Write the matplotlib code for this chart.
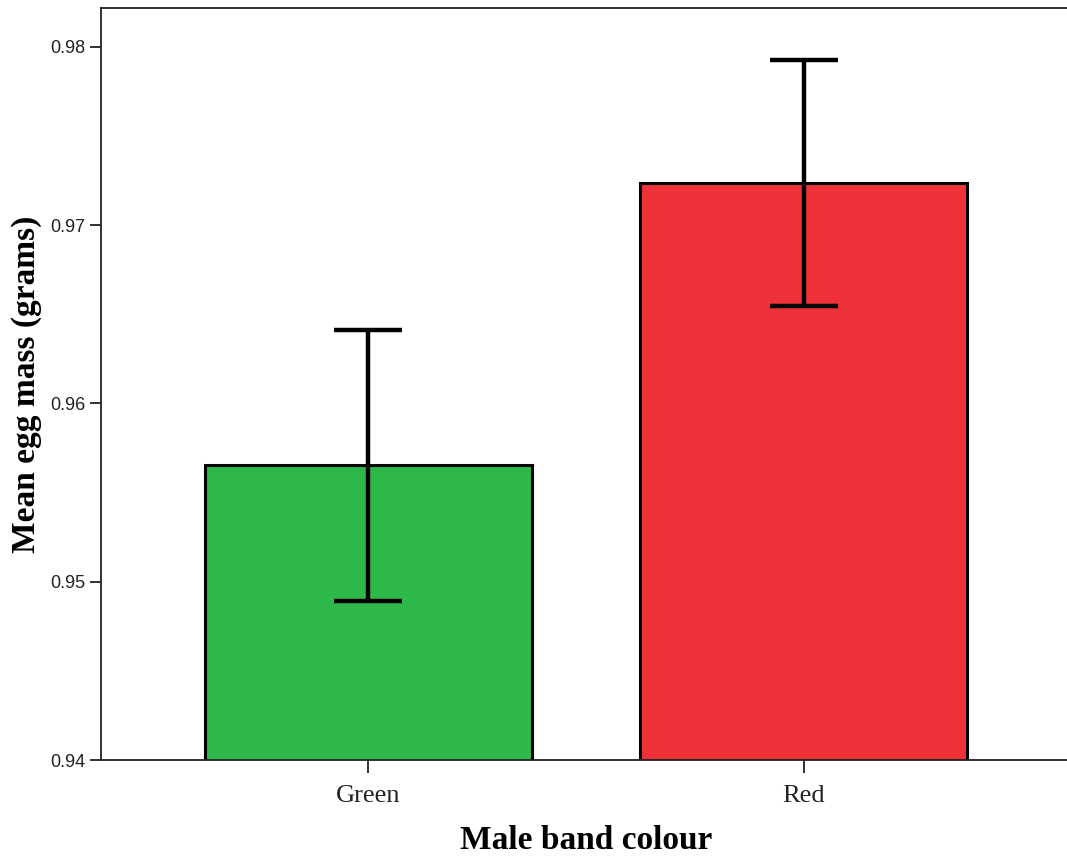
import matplotlib
matplotlib.use("Agg")
import matplotlib.pyplot as plt
import numpy as np

# Mean egg mass by male band colour, with error bar half-widths
categories = ["Green", "Red"]
means = [0.95653, 0.97234]
errors = [0.00761, 0.00690]
bar_colors = ["#2fb84a", "#ef3239"]
yticks = [0.94, 0.95, 0.96, 0.97, 0.98]

fig = plt.figure(figsize=(10.67, 8.58), dpi=100)
ax = fig.add_axes([101 / 1067, 98 / 858, 970 / 1067, 752 / 858])

x = np.arange(len(categories))
ax.bar(x, means, width=0.75, color=bar_colors, edgecolor="black",
       linewidth=2.2, zorder=2)
ax.errorbar(x, means, yerr=errors, fmt="none", ecolor="black",
            elinewidth=3.2, capsize=24.5, capthick=3.2, zorder=3)

ax.set_xlim(-0.6124, 1.6124)
ax.set_ylim(0.94, 0.98217)
ax.set_yticks(yticks)
ax.set_yticklabels([f"{v:.2f}" for v in yticks], family="Liberation Sans",
                   fontsize=13, color="#222222")
ax.set_xticks(x)
ax.set_xticklabels(categories, family="Liberation Serif", fontsize=19,
                   color="#222222")

for side in ["left", "top", "bottom"]:
    ax.spines[side].set_linewidth(1.3)
    ax.spines[side].set_color("#222222")
ax.spines["right"].set_visible(False)

ax.tick_params(axis="y", direction="out", length=8, width=1.3,
               color="#222222", pad=3.5)
ax.tick_params(axis="x", direction="out", length=9, width=1.3,
               color="#222222", pad=9)

ax.set_xlabel("Male band colour", family="Liberation Serif",
              fontweight="bold", fontsize=24, labelpad=13)
ax.set_ylabel("Mean egg mass (grams)", family="Liberation Serif",
              fontweight="bold", fontsize=24, labelpad=5.5)

fig.savefig("out.png", dpi=100)
